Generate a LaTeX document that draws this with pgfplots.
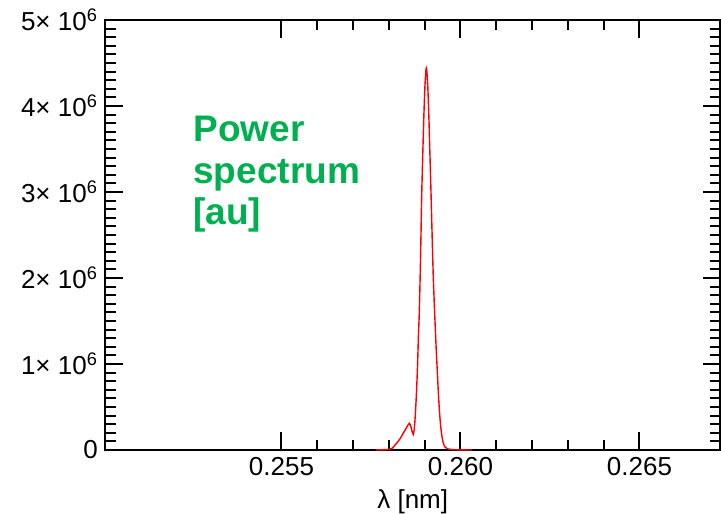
\documentclass[border=0pt]{standalone}
\usepackage{pgfplots}
\pgfplotsset{compat=1.18}
\usepackage{fontspec}
\setmainfont{Liberation Sans}
\definecolor{pgreen}{RGB}{0,176,80}
\begin{document}
\begin{tikzpicture}
\begin{axis}[
  scale only axis, width=307.75pt, height=215pt,
  xmin=0.25007, xmax=0.267263, ymin=0, ymax=5000000,
  xtick={0.255,0.26,0.265}, xticklabels={0.255,0.260,0.265},
  minor x tick num=4,
  ytick={0,1000000,2000000,3000000,4000000,5000000},
  yticklabels={0, 1× 10\textsuperscript{6}, 2× 10\textsuperscript{6}, 3× 10\textsuperscript{6}, 4× 10\textsuperscript{6}, 5× 10\textsuperscript{6}},
  minor y tick num=9,
  scaled y ticks=false, scaled x ticks=false,
  tick align=inside,
  major tick length=9pt, minor tick length=5.25pt,
  every tick/.style={black, line width=1pt},
  axis line style={line width=1.35pt},
  tick label style={font=\fontsize{13}{15}\selectfont},
  xlabel={λ [nm]}, xlabel style={font=\fontsize{13}{15}\selectfont},
  clip=false,
]
\addplot[red, line width=0.7pt, no markers, smooth, tension=0.4] coordinates {
(0.257640,0) (0.257807,3000) (0.257975,6000) (0.258087,20000) (0.258198,70000)
(0.258310,130000) (0.258394,190000) (0.258478,250000) (0.258534,290000) (0.258570,310000)
(0.258603,290000) (0.258645,220000) (0.258682,180000) (0.258707,240000) (0.258729,350000)
(0.258757,550000) (0.258779,750000) (0.258802,1000000) (0.258827,1350000) (0.258849,1600000)
(0.258883,2200000) (0.258916,2950000) (0.258947,3450000) (0.258978,3900000) (0.259006,4220000)
(0.259031,4400000) (0.259045,4440000) (0.259061,4400000) (0.259087,4220000) (0.259115,3900000)
(0.259142,3500000) (0.259173,3050000) (0.259204,2550000) (0.259237,2050000) (0.259268,1700000)
(0.259296,1420000) (0.259324,1150000) (0.259352,920000) (0.259380,680000) (0.259408,480000)
(0.259441,300000) (0.259478,170000) (0.259520,80000) (0.259567,35000) (0.259637,15000)
(0.259735,6000) (0.259930,2000) (0.260321,0)
};
\coordinate (sw) at (rel axis cs:0,0);
\coordinate (ne) at (rel axis cs:1,1);
\node[anchor=base west, inner sep=0, text=pgreen, font=\fontsize{18.5}{22}\selectfont\bfseries] at (rel axis cs:0.143,0.7174) {Power};
\node[anchor=base west, inner sep=0, text=pgreen, font=\fontsize{18.5}{22}\selectfont\bfseries] at (rel axis cs:0.143,0.6209) {spectrum};
\node[anchor=base west, inner sep=0, text=pgreen, font=\fontsize{18.5}{22}\selectfont\bfseries] at (rel axis cs:0.143,0.5233) {[au]};
\end{axis}
\pgfresetboundingbox
\path ([shift={(-52.5pt,-31.5pt)}]sw) rectangle ([shift={(0.25pt,10pt)}]ne);
\end{tikzpicture}
\end{document}
